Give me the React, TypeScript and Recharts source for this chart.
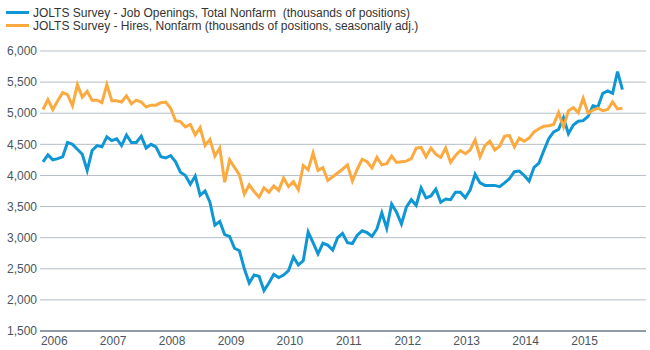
import React from "react";
import { LineChart, Line, XAxis, YAxis, CartesianGrid } from "recharts";

// monthly, Oct 2005 - Aug 2015 (thousands)
const openings = [
  4220, 4330, 4250, 4270, 4300, 4530, 4500, 4420, 4340, 4080, 4400, 4480,
  4460, 4620, 4560, 4590, 4480, 4650, 4530, 4530, 4630, 4440, 4500, 4460,
  4300, 4280, 4320, 4220, 4050, 4000, 3860, 3990, 3680, 3750, 3570, 3200,
  3260, 3050, 3020, 2830, 2790, 2500, 2270, 2400, 2380, 2150, 2270, 2410,
  2360, 2400, 2470, 2690, 2560, 2630, 3090, 2920, 2740, 2910, 2880, 2800,
  3000, 3070, 2920, 2905, 3040, 3110, 3080, 3020, 3140, 3400, 3150, 3540,
  3410, 3220, 3490, 3610, 3520, 3800, 3640, 3670, 3780, 3570, 3620, 3610,
  3730, 3730, 3640, 3770, 4020, 3880, 3840, 3840, 3840, 3820, 3880, 3950,
  4060, 4070, 4000, 3910, 4130, 4200, 4400, 4590, 4700, 4740, 4930, 4670,
  4810, 4870, 4880, 4950, 5120, 5100, 5320, 5360, 5320, 5670, 5380,
];

const hires = [
  5060, 5220, 5060, 5200, 5330, 5300, 5120, 5460, 5260, 5350, 5210, 5210,
  5170, 5460, 5200, 5200, 5180, 5280, 5150, 5210, 5180, 5100, 5130, 5130,
  5170, 5180, 5080, 4880, 4865, 4780, 4820, 4650, 4770, 4480, 4580, 4310,
  4440, 3890, 4250, 4130, 4010, 3700, 3850, 3740, 3650, 3800, 3730, 3830,
  3760, 3960, 3820, 3900, 3770, 4160, 4090, 4360, 4080, 4125, 3920, 3980,
  4040, 4100, 4170, 3910, 4100, 4260, 4220, 4120, 4290, 4170, 4190, 4310,
  4210, 4220, 4230, 4270, 4440, 4450, 4300, 4440, 4340, 4290, 4440, 4210,
  4320, 4400, 4350, 4410, 4570, 4300, 4480, 4550, 4410, 4470, 4630, 4640,
  4460, 4600, 4550, 4600, 4700, 4750, 4790, 4800, 4820, 5010, 4780, 5040,
  5090, 5010, 5240, 5000, 5050, 5080, 5040, 5060, 5180, 5070, 5080,
];

const years = [2006, 2007, 2008, 2009, 2010, 2011, 2012, 2013, 2014, 2015];
const yTicks = [1500, 2000, 2500, 3000, 3500, 4000, 4500, 5000, 5500, 6000];

const seriesNames = {
  openings: "JOLTS Survey - Job Openings, Total Nonfarm  (thousands of positions)",
  hires: "JOLTS Survey - Hires, Nonfarm (thousands of positions, seasonally adj.)",
};

const BLUE = "#0f97d5";
const ORANGE = "#fbaa40";
const FONT = "'Liberation Sans', Arial, sans-serif";

// first point is Oct 2005, so January of each year sits at index 3 + 12k
const data = openings.map((v, i) => ({ i, openings: v, hires: hires[i] }));
const yearIndex = years.map((_, k) => 3 + 12 * k);

function YearTick({ x, y, payload }: any) {
  const k = yearIndex.indexOf(payload.value);
  return (
    <text x={x - 3.5} y={y + 12} textAnchor="middle" fontSize={12} fill="#4a5560" fontFamily={FONT}>
      {years[k]}
    </text>
  );
}

function LegendBox() {
  const rows = [
    { name: seriesNames.openings, color: BLUE },
    { name: seriesNames.hires, color: ORANGE },
  ];
  return (
    <div style={{ position: "absolute", top: 6, left: 0, fontFamily: FONT, fontSize: 12, color: "#333" }}>
      {rows.map((r) => (
        <div key={r.name} style={{ display: "flex", alignItems: "center", height: 13, whiteSpace: "pre" }}>
          <div style={{ width: 23, height: 3, background: r.color, marginLeft: 6, marginRight: 4 }} />
          <span>{r.name}</span>
        </div>
      ))}
    </div>
  );
}

export default function App() {
  return (
    <div style={{ position: "absolute", left: 0, top: 0, width: 650, height: 350, background: "#fff" }}>
      <LineChart width={650} height={350} data={data} margin={{ top: 51, right: 4, bottom: 0, left: 0 }}>
        <CartesianGrid vertical={false} stroke="#b4bec8" />
        <XAxis
          dataKey="i"
          type="number"
          domain={[-0.61, 122.8]}
          ticks={yearIndex}
          tick={<YearTick />}
          tickLine={false}
          tickSize={0}
          axisLine={{ stroke: "#8f9ba7", strokeWidth: 2 }}
          height={19}
          allowDataOverflow
        />
        <YAxis
          domain={[1500, 6000]}
          ticks={yTicks}
          width={40}
          tickSize={3}
          tickMargin={0}
          tickLine={false}
          axisLine={false}
          tick={{ fontSize: 12, fill: "#4a5560", fontFamily: FONT }}
          tickFormatter={(v) => v.toLocaleString("en-US")}
        />
        <Line
          dataKey="openings"
          stroke={BLUE}
          strokeWidth={3}
          dot={false}
          isAnimationActive={false}
        />
        <Line
          dataKey="hires"
          stroke={ORANGE}
          strokeWidth={3}
          dot={false}
          isAnimationActive={false}
        />
      </LineChart>
      <LegendBox />
    </div>
  );
}
